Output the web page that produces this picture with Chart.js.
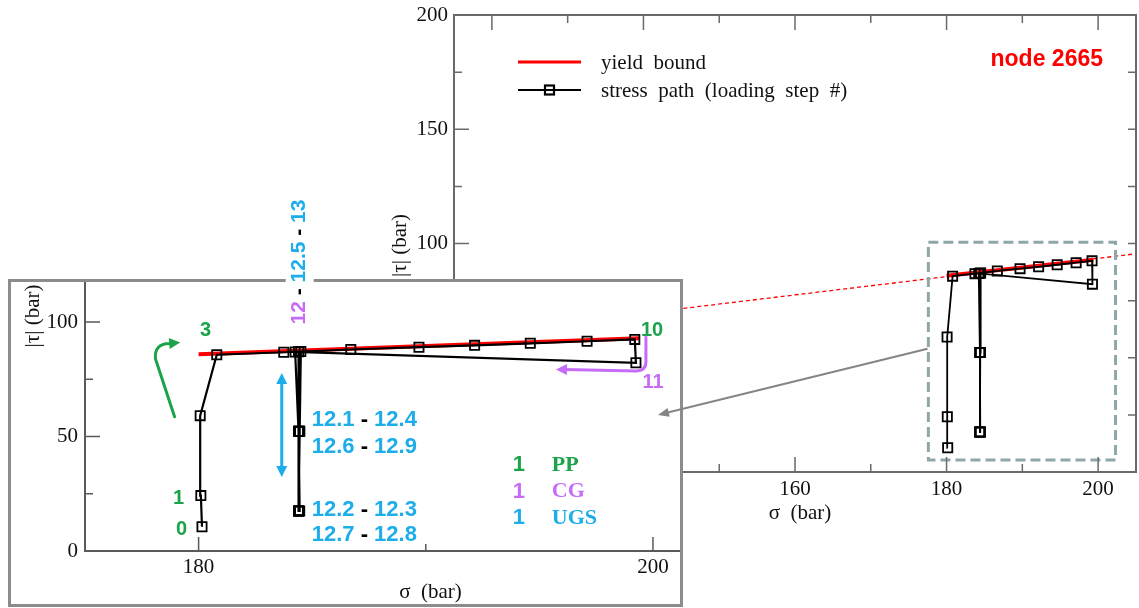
<!DOCTYPE html>
<html><head><meta charset="utf-8">
<script src="https://cdn.jsdelivr.net/npm/chart.js@4.4.1/dist/chart.umd.min.js"></script>
<style>
html,body{margin:0;padding:0;background:#fff;}
#wrap{position:relative;width:1139px;height:608px;overflow:hidden;background:#fff;}
#main{position:absolute;left:0;top:0;}
#frame{position:absolute;left:8px;top:279px;width:675px;height:328px;box-sizing:border-box;border:3px solid #8c8c8c;background:#fff;}
#inset{position:absolute;left:11px;top:282px;}
#overlay{position:absolute;left:0;top:0;pointer-events:none;}
</style></head>
<body><div id="wrap">
<canvas id="main" width="1139" height="608"></canvas>
<div id="frame"></div>
<canvas id="inset" width="669" height="322"></canvas>
<canvas id="overlay" width="1139" height="608"></canvas>
</div>
<script>
// ---------------- data ----------------
const stepLabels = ['0','1','2','3','4','5','6','7','8','9','10','11','12','12.1','12.2','12.3','12.4','12.5','12.6','12.7','12.8','12.9','13'];
const stressSigma = [180.15,180.10,180.07,180.80,183.75,186.70,189.70,192.15,194.60,197.10,199.20,199.25,184.25,184.40,184.40,184.45,184.40,184.40,184.45,184.40,184.40,184.45,184.50];
const stressTau   = [10.6,24.2,59.1,85.7,86.8,88.0,89.0,89.8,90.7,91.6,92.4,82.2,86.9,52.3,17.5,17.5,52.3,87.0,52.3,17.5,17.5,52.3,87.1];
const yieldSigma = [180.0, 199.4];
const yieldTau = [85.9, 92.9];
const yieldExtSigma = [115, 205];
const yieldExtTau = [59.5, 95.5];
const boxSigma = [177.6, 202.3, 202.3, 177.6, 177.6];
const boxTau = [100.6, 100.6, 5.3, 5.3, 100.6];
const mainSigmaMajor = [120,140,160,180,200];
const mainSigmaMinor = [130,150,170,190];
const mainTauMajor = [0,50,100,150,200];
const mainTauMinor = [25,75,125,175];
const insetSigmaMajor = [180,200];
const insetSigmaMinor = [190];
const insetTauMajor = [0,50,100];
const insetTauMinor = [25,75];

// ---------------- styles ----------------
const RED = '#ff0000', GREEN = '#1aa34a', PURPLE = '#c66cf6', BLUE = '#1cadea', BOXC = '#8fa7a8';
const AXIS_MAIN = '#6a6a6a', AXIS_INSET = '#5a5a5a', TXT = '#111';
const SERIF = "'Liberation Serif','Times New Roman',serif";
const SANS = "'Liberation Sans',Arial,sans-serif";

// annotation placement (data units of the inset axes)
const notes = {
  steps: [ ['3', GREEN, 180.31, 96.5], ['1', GREEN, 179.12, 23.1], ['0', GREEN, 179.25, 9.2],
           ['10', GREEN, 199.96, 96.5], ['11', PURPLE, 200.0, 73.4] ],
  ranges: [ [[['12.1',BLUE],[' - ','#000'],['12.4',BLUE]], 184.98, 57.2],
            [[['12.6',BLUE],[' - ','#000'],['12.9',BLUE]], 184.98, 45.5],
            [[['12.2',BLUE],[' - ','#000'],['12.3',BLUE]], 184.98, 17.9],
            [[['12.7',BLUE],[' - ','#000'],['12.8',BLUE]], 184.98, 7.0] ],
  rotated: [[['12',PURPLE],[' - ','#000'],['12.5',BLUE],[' - ','#000'],['13',BLUE]], 184.45, 126.2],
  key: [ ['PP', GREEN, 37.6], ['CG', PURPLE, 25.9], ['UGS', BLUE, 14.4] ], keyNumSigma: 194.10, keyTextSigma: 195.55,
  greenArrow: [[178.943,58.6],[178.10,84.0],[178.05,90.5],[178.70,90.6],[179.19,91.0]],
  blueArrow: [183.66, 77.7, 32.3],
  purpleArrow: [[199.69,93.4],[199.69,82.5],[199.69,78.6],[199.25,78.6],[195.73,79.3]],
  pointerFrom: [177.49, 53.9], pointerTo: [200.22, 59.4]
};

const pts = (xs, ys) => xs.map((x, i) => ({x, y: ys[i]}));

function arrowHead(ctx, tx, ty, ang, len, half, color) {
  ctx.save(); ctx.translate(tx, ty); ctx.rotate(ang);
  ctx.beginPath(); ctx.moveTo(0, 0); ctx.lineTo(-len, -half); ctx.lineTo(-len, half); ctx.closePath();
  ctx.fillStyle = color; ctx.fill(); ctx.restore();
}
function drawSegments(ctx, segs, x, y, align) {
  const total = segs.reduce((s, [t]) => s + ctx.measureText(t).width, 0);
  let cx = align === 'center' ? x - total / 2 : x;
  ctx.textAlign = 'left';
  for (const [t, c] of segs) { ctx.fillStyle = c; ctx.fillText(t, cx, y); cx += ctx.measureText(t).width; }
  return total;
}
function zeroPad(s) { s.paddingTop = 0; s.paddingBottom = 0; s.paddingLeft = 0; s.paddingRight = 0; }

// ---------------- main chart ----------------
const mainDecor = {
  id: 'mainDecor',
  afterDraw(chart) {
    const {ctx, chartArea: a, scales: {x, y}} = chart;
    ctx.save();
    ctx.strokeStyle = AXIS_MAIN; ctx.lineWidth = 2;
    ctx.strokeRect(a.left, a.top, a.right - a.left, a.bottom - a.top);
    ctx.lineWidth = 1.5; ctx.beginPath();
    mainSigmaMajor.forEach(v => { const p = x.getPixelForValue(v); ctx.moveTo(p, a.bottom); ctx.lineTo(p, a.bottom - 15); ctx.moveTo(p, a.top); ctx.lineTo(p, a.top + 15); });
    mainSigmaMinor.forEach(v => { const p = x.getPixelForValue(v); ctx.moveTo(p, a.bottom); ctx.lineTo(p, a.bottom - 8); ctx.moveTo(p, a.top); ctx.lineTo(p, a.top + 8); });
    mainTauMajor.forEach(v => { const p = y.getPixelForValue(v); ctx.moveTo(a.left, p); ctx.lineTo(a.left + 15, p); ctx.moveTo(a.right, p); ctx.lineTo(a.right - 8, p); });
    mainTauMinor.forEach(v => { const p = y.getPixelForValue(v); ctx.moveTo(a.left, p); ctx.lineTo(a.left + 8, p); ctx.moveTo(a.right, p); ctx.lineTo(a.right - 8, p); });
    ctx.stroke();
    // axis titles
    ctx.fillStyle = TXT; ctx.font = '21px ' + SERIF; ctx.textBaseline = 'middle'; ctx.textAlign = 'center';
    ctx.fillText('σ  (bar)', (a.left + a.right) / 2 + 5, a.bottom + 41);
    ctx.save(); ctx.translate(a.left - 54, (a.top + a.bottom) / 2 + 2); ctx.rotate(-Math.PI / 2);
    ctx.fillText('|τ| (bar)', 0, 0); ctx.restore();
    // legend
    const ds = chart.data.datasets;
    const lx0 = a.left + 64, lx1 = a.left + 127, ly1 = a.top + 47, ly2 = a.top + 75;
    ctx.strokeStyle = ds[2].borderColor; ctx.lineWidth = 3;
    ctx.beginPath(); ctx.moveTo(lx0, ly1); ctx.lineTo(lx1, ly1); ctx.stroke();
    ctx.strokeStyle = '#000'; ctx.lineWidth = 1.8;
    ctx.beginPath(); ctx.moveTo(lx0, ly2); ctx.lineTo(lx1, ly2); ctx.stroke();
    ctx.lineWidth = 2.2; ctx.strokeRect((lx0 + lx1) / 2 - 4.5, ly2 - 4.5, 9, 9);
    ctx.fillStyle = TXT; ctx.textAlign = 'left'; ctx.font = '21px ' + SERIF;
    ctx.fillText(ds[2].label, a.left + 147, ly1 + 1);
    ctx.fillText(ds[3].label, a.left + 147, ly2 + 1);
    // node label
    ctx.fillStyle = RED; ctx.font = 'bold 23px ' + SANS; ctx.textAlign = 'right';
    ctx.fillText('node 2665', a.right - 33, a.top + 45);
    ctx.restore();
  }
};

const mainChart = new Chart(document.getElementById('main'), {
  type: 'scatter',
  data: { datasets: [
    { label: 'yield extension', data: pts(yieldExtSigma, yieldExtTau), showLine: true, borderColor: RED, borderWidth: 1.3, borderDash: [4, 3], pointRadius: 0, order: 4 },
    { label: 'zoom window', data: pts(boxSigma, boxTau), showLine: true, borderColor: BOXC, borderWidth: 3, borderDash: [10, 5], pointRadius: 0, order: 3 },
    { label: 'yield  bound', data: pts(yieldSigma, yieldTau), showLine: true, borderColor: RED, borderWidth: 4, pointRadius: 0, order: 2 },
    { label: 'stress  path  (loading  step  #)', data: pts(stressSigma, stressTau), showLine: true, borderColor: '#000', borderWidth: 1.8,
      pointStyle: 'rect', pointRadius: 6.5, pointBorderWidth: 1.8, pointBackgroundColor: 'rgba(0,0,0,0)', pointBorderColor: '#000', order: 1 }
  ]},
  options: {
    responsive: false, animation: false, devicePixelRatio: 1,
    layout: { autoPadding: false, padding: { top: 15, right: 3, left: 0, bottom: 0 } },
    plugins: { legend: { display: false }, tooltip: { enabled: false } },
    scales: {
      x: { type: 'linear', min: 115, max: 205, grid: { display: false, drawTicks: false }, border: { display: false },
        afterBuildTicks: s => { s.ticks = mainSigmaMajor.map(v => ({value: v})); },
        afterFit: s => { s.height = 136; zeroPad(s); },
        ticks: { font: { family: SERIF, size: 21 }, color: TXT, padding: 5, maxRotation: 0, autoSkip: false } },
      y: { type: 'linear', min: 0, max: 200, grid: { display: false, drawTicks: false }, border: { display: false },
        afterBuildTicks: s => { s.ticks = mainTauMajor.map(v => ({value: v})); },
        afterFit: s => { s.width = 454; zeroPad(s); },
        ticks: { font: { family: SERIF, size: 21 }, color: TXT, padding: 6, autoSkip: false } }
    }
  },
  plugins: [mainDecor]
});

// ---------------- inset chart ----------------
const insetDecor = {
  id: 'insetDecor',
  afterDraw(chart) {
    const {ctx, chartArea: a, scales: {x, y}} = chart;
    const X = v => x.getPixelForValue(v), Y = v => y.getPixelForValue(v);
    ctx.save();
    ctx.strokeStyle = AXIS_INSET; ctx.lineWidth = 2;
    ctx.beginPath(); ctx.moveTo(a.left, 0); ctx.lineTo(a.left, a.bottom); ctx.lineTo(chart.width, a.bottom); ctx.stroke();
    ctx.lineWidth = 1.5; ctx.beginPath();
    insetSigmaMajor.forEach(v => { ctx.moveTo(X(v), a.bottom); ctx.lineTo(X(v), a.bottom - 14); });
    insetSigmaMinor.forEach(v => { ctx.moveTo(X(v), a.bottom); ctx.lineTo(X(v), a.bottom - 7); });
    insetTauMajor.forEach(v => { ctx.moveTo(a.left, Y(v)); ctx.lineTo(a.left + 15, Y(v)); });
    insetTauMinor.forEach(v => { ctx.moveTo(a.left, Y(v)); ctx.lineTo(a.left + 8, Y(v)); });
    ctx.stroke();
    // titles
    ctx.fillStyle = TXT; ctx.font = '21px ' + SERIF; ctx.textBaseline = 'middle'; ctx.textAlign = 'center';
    ctx.fillText('σ  (bar)', (a.left + a.right) / 2 + 48, a.bottom + 41);
    ctx.save(); ctx.translate(a.left - 52, a.top + 33); ctx.rotate(-Math.PI / 2);
    ctx.fillText('|τ| (bar)', 0, 0); ctx.restore();
    // step labels
    ctx.font = 'bold 20px ' + SANS; ctx.textAlign = 'center';
    notes.steps.forEach(([t, c, s, tau]) => { ctx.fillStyle = c; ctx.fillText(t, X(s), Y(tau)); });
    ctx.font = 'bold 22px ' + SANS;
    notes.ranges.forEach(([segs, s, tau]) => drawSegments(ctx, segs, X(s), Y(tau), 'left'));
    // key
    notes.key.forEach(([t, c, tau]) => {
      ctx.fillStyle = c; ctx.font = 'bold 22px ' + SANS; ctx.textAlign = 'center';
      ctx.fillText('1', X(notes.keyNumSigma), Y(tau));
      ctx.font = 'bold 22px ' + SERIF; ctx.textAlign = 'left';
      ctx.fillText(t, X(notes.keyTextSigma), Y(tau));
    });
    // green curved arrow
    const g = notes.greenArrow.map(([s, t]) => [X(s), Y(t)]);
    ctx.strokeStyle = GREEN; ctx.lineWidth = 3; ctx.lineCap = 'round';
    ctx.beginPath(); ctx.moveTo(g[0][0], g[0][1]); ctx.lineTo(g[1][0], g[1][1]);
    ctx.quadraticCurveTo(g[2][0], g[2][1], g[3][0], g[3][1]);
    const gAng = Math.atan2(g[4][1] - g[3][1], g[4][0] - g[3][0]);
    ctx.lineTo(g[4][0] - 8 * Math.cos(gAng), g[4][1] - 8 * Math.sin(gAng)); ctx.stroke();
    arrowHead(ctx, g[4][0], g[4][1], gAng, 11, 5.5, GREEN);
    // blue double arrow
    const bx = X(notes.blueArrow[0]), by0 = Y(notes.blueArrow[1]), by1 = Y(notes.blueArrow[2]);
    ctx.strokeStyle = BLUE; ctx.lineCap = 'butt';
    ctx.beginPath(); ctx.moveTo(bx, by0 + 8); ctx.lineTo(bx, by1 - 8); ctx.stroke();
    arrowHead(ctx, bx, by0, -Math.PI / 2, 11, 5.5, BLUE);
    arrowHead(ctx, bx, by1, Math.PI / 2, 11, 5.5, BLUE);
    // purple arrow
    const p = notes.purpleArrow.map(([s, t]) => [X(s), Y(t)]);
    ctx.strokeStyle = PURPLE; ctx.lineCap = 'round';
    ctx.beginPath(); ctx.moveTo(p[0][0], p[0][1]); ctx.lineTo(p[1][0], p[1][1]);
    ctx.quadraticCurveTo(p[2][0], p[2][1], p[3][0], p[3][1]);
    const pAng = Math.atan2(p[4][1] - p[3][1], p[4][0] - p[3][0]);
    ctx.lineTo(p[4][0] - 8 * Math.cos(pAng), p[4][1] - 8 * Math.sin(pAng)); ctx.stroke();
    arrowHead(ctx, p[4][0], p[4][1], pAng, 11, 5.5, PURPLE);
    ctx.restore();
  }
};

const insetChart = new Chart(document.getElementById('inset'), {
  type: 'scatter',
  data: { datasets: [
    { label: 'yield  bound', data: pts(yieldSigma, yieldTau), showLine: true, borderColor: RED, borderWidth: 4, pointRadius: 0, order: 2 },
    { label: 'stress  path  (loading  step  #)', data: pts(stressSigma, stressTau), showLine: true, borderColor: '#000', borderWidth: 2.2,
      pointStyle: 'rect', pointRadius: 6.5, pointBorderWidth: 1.8, pointBackgroundColor: 'rgba(0,0,0,0)', pointBorderColor: '#000', order: 1 }
  ]},
  options: {
    responsive: false, animation: false, devicePixelRatio: 1,
    layout: { autoPadding: false, padding: { top: 1, right: 0, left: 0, bottom: 0 } },
    plugins: { legend: { display: false }, tooltip: { enabled: false } },
    scales: {
      x: { type: 'linear', min: 175, max: 201.19, grid: { display: false, drawTicks: false }, border: { display: false },
        afterBuildTicks: s => { s.ticks = insetSigmaMajor.map(v => ({value: v})); },
        afterFit: s => { s.height = 53; zeroPad(s); },
        ticks: { font: { family: SERIF, size: 21 }, color: TXT, padding: 4, maxRotation: 0, autoSkip: false } },
      y: { type: 'linear', min: 0, max: 117.03, grid: { display: false, drawTicks: false }, border: { display: false },
        afterBuildTicks: s => { s.ticks = insetTauMajor.map(v => ({value: v})); },
        afterFit: s => { s.width = 74; zeroPad(s); },
        ticks: { font: { family: SERIF, size: 21 }, color: TXT, padding: 7, autoSkip: false } }
    }
  },
  plugins: [insetDecor]
});

// ---------------- overlay (pointer arrow + rotated label) ----------------
(function drawOverlay() {
  const ctx = document.getElementById('overlay').getContext('2d');
  const mx = mainChart.scales.x, my = mainChart.scales.y, ix = insetChart.scales.x, iy = insetChart.scales.y;
  const OX = 11, OY = 282;
  const x0 = mx.getPixelForValue(notes.pointerFrom[0]), y0 = my.getPixelForValue(notes.pointerFrom[1]);
  const x1 = OX + ix.getPixelForValue(notes.pointerTo[0]), y1 = OY + iy.getPixelForValue(notes.pointerTo[1]);
  const ang = Math.atan2(y1 - y0, x1 - x0);
  ctx.strokeStyle = '#858585'; ctx.lineWidth = 2;
  ctx.beginPath(); ctx.moveTo(x0, y0); ctx.lineTo(x1 - 9 * Math.cos(ang), y1 - 9 * Math.sin(ang)); ctx.stroke();
  arrowHead(ctx, x1, y1, ang, 11, 4.5, '#858585');
  // rotated label
  const [segs, s, t] = notes.rotated;
  const cx = OX + ix.getPixelForValue(s), cy = OY + iy.getPixelForValue(t);
  ctx.font = 'bold 21px ' + SANS; ctx.textBaseline = 'middle';
  const w = segs.reduce((acc, [tt]) => acc + ctx.measureText(tt).width, 0);
  ctx.fillStyle = '#fff'; ctx.fillRect(cx - 14, cy - w / 2 - 4, 28, w + 8);
  ctx.save(); ctx.translate(cx, cy); ctx.rotate(-Math.PI / 2);
  drawSegments(ctx, segs, 0, 0, 'center');
  ctx.restore();
})();
</script></body></html>
